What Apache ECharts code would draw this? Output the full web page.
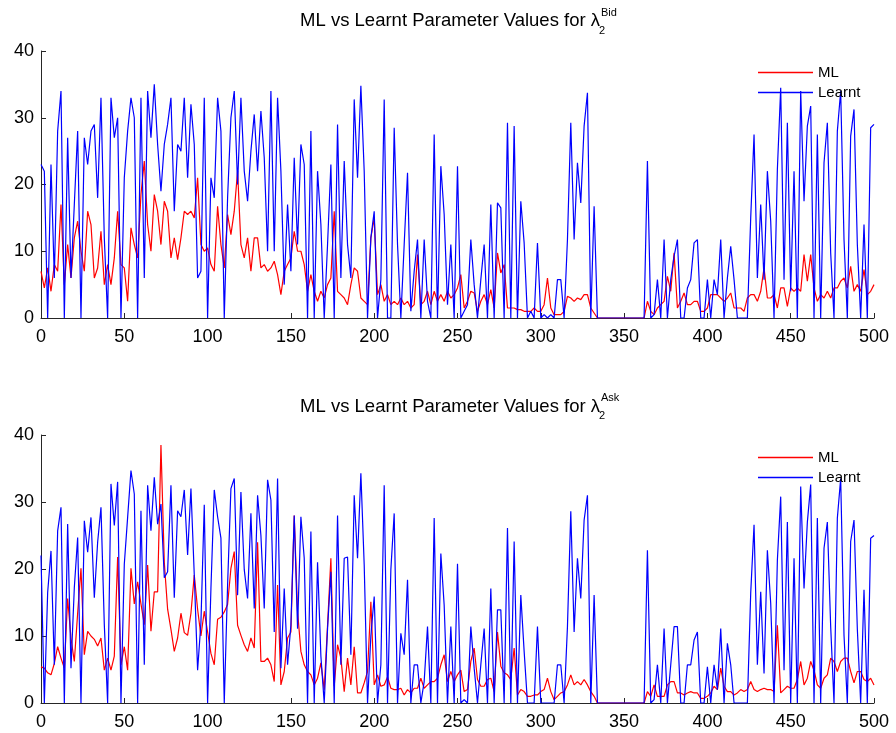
<!DOCTYPE html>
<html>
<head>
<meta charset="utf-8">
<title>ML vs Learnt Parameter Values</title>
<script src="https://cdn.jsdelivr.net/npm/echarts@6/dist/echarts.min.js"></script>
<style>
  html, body { margin: 0; padding: 0; background: #fff; }
  #chart { width: 896px; height: 733px; }
</style>
</head>
<body>
<div id="chart"></div>
<script>
// values every 2 steps along x (0, 2, 4 ... 500)
const xStep = 2

const bidML = [
  7, 4.5, 7.5, 4, 8, 7, 17, 5, 11, 6, 12, 14.5, 10, 7, 16, 14, 6, 7.5, 13, 5, 8,
  5, 9, 16, 8, 7.5, 2.5, 13.5, 11, 9, 18.5, 23.5, 14, 10, 18.5, 16, 11, 17.5, 16, 9, 12, 8.75,
  12, 16, 15.5, 16, 15, 21, 11, 10, 10.5, 8, 7, 16.75, 11, 7.5, 15.5, 12.5, 16, 22, 11, 9, 12,
  7, 12, 12, 7.5, 8, 7, 7.5, 8.5, 6.5, 3.5, 7, 8, 9, 13, 10, 10, 8, 4, 6.5, 4, 2.5,
  4, 3, 5, 6, 16, 4, 3.5, 3, 2, 5, 7.5, 7, 3, 2.5, 2, 12, 15, 3.5, 5, 2.5, 3.5,
  2, 2.5, 2, 3, 2, 2.5, 1.5, 2, 9.5, 2, 2.5, 4, 2, 4, 2.5, 3.5, 2.5, 4, 3, 3.5, 4.5,
  6.5, 1.5, 2.5, 4, 3.75, 1, 2.5, 3.5, 2, 4.25, 1.5, 9.75, 6.75, 8, 1.5, 1.5, 1.5, 1.25, 1.25, 1, 1,
  1, 1.5, 1, 1, 2, 6, 1.5, 0.5, 0.5, 0.5, 1, 3.25, 3, 2.5, 3, 2.75, 3.5, 3.5, 1.5, 0.75, 0,
  0, 0, 0, 0, 0, 0, 0, 0, 0, 0, 0, 0, 0, 0,
  2.5, 1, 0.5, 1.5, 2, 2.5, 6.25, 4, 9.75, 1.5, 2.5, 3.75, 2, 2,
  2.5, 2.5, 1, 1, 1.5, 3.5, 3.5, 3.5, 3, 2.5, 3, 3.75, 1.5, 1.5,
  1.5, 1, 3, 3.5, 3.5, 2.5, 4, 7.5, 3, 3, 3.5, 1.5, 4.5, 4.5, 1.75, 4.5, 4, 4.5, 4, 9.5,
  5.5, 9.5, 4.5, 2.5, 3.5, 3, 4, 3, 4.5, 4.5, 5.5, 6, 4.5, 7.75, 4, 5, 4, 7.25, 3.5, 4, 5
]

const bidLearnt = [
  23, 22, 0, 23, 6, 28, 34, 0, 27, 6, 17, 28, 0, 27, 23, 28, 29, 18, 33, 12, 0,
  33, 27, 30, 0, 21, 28, 33, 30, 0, 33, 6, 34, 27, 35, 26, 19, 26, 29, 33, 16, 26,
  25, 33, 21, 32, 26, 6, 7, 33, 0, 21, 18, 33, 28, 0, 18, 30, 34, 20, 33, 22, 17.5,
  25, 30.5, 22, 31, 24, 10, 34, 10, 33, 22, 5, 17, 7, 24, 11, 26, 23, 0, 28, 0, 22,
  14, 0, 11, 23, 0, 29, 6, 23.5, 11, 6, 32.75, 21, 34.8, 22, 0, 12, 16, 0, 5.75, 32.75, 0,
  0, 28.5, 11, 0, 11, 21.75, 1, 7, 11.75, 0, 11.75, 2.5, 0, 27.5, 0, 22.75, 15.5, 2, 11, 0, 22.75,
  0, 1, 2, 11.75, 5, 0, 5.75, 11, 0, 17, 0, 17.25, 16.5, 0, 29.25, 0, 28.75, 0, 17.5, 11.25, 0,
  1, 0, 11.25, 0, 0.5, 0, 0.5, 0, 5.75, 5.75, 0, 11.75, 29.25, 11.75, 23.25, 17.25, 28.75, 33.75, 0, 16.75, 0,
  0, 0, 0, 0, 0, 0, 0, 0, 0, 0, 0, 0, 0, 0,
  23.5, 0, 0.5, 5.75, 0, 11.75, 0, 5.75, 9.25, 11.75, 0, 0, 4.5, 5.75,
  11.25, 11.75, 0, 0, 5.75, 0, 5.75, 3.5, 11.75, 0, 6, 10.75, 5.75, 0,
  0, 0, 0, 15, 27.5, 6, 17, 5.75, 22, 14.5, 0, 22.25, 34.5, 5.75, 29.25, 4, 22, 0, 34, 17.5,
  28.75, 31.75, 0, 27.5, 0, 23.25, 29.25, 9.75, 0, 28, 34, 11.75, 0, 27.25, 31.25, 11, 0, 14, 0, 28.5, 29
]

const askML = [
  5.4, 5.2, 4.5, 4.2, 5.9, 8.4, 6.7, 5.2, 15.6, 9.7, 6.2, 13.4, 20.1, 7.2, 10.7, 10, 9.5, 8.5, 9.7, 4.9, 6.7,
  4.9, 7, 21.8, 5.7, 8.4, 4.9, 20.1, 14.8, 18.1, 14.8, 11.7, 20.6, 10.7, 16.6, 16.6, 38.5, 21, 14, 11, 7.7, 9.7,
  13.4, 10.5, 10.1, 13.4, 19.1, 14, 10, 13.7, 10.6, 7.4, 5.7, 12.5, 12.8, 13.6, 14.7, 20.1, 22.6, 11.6, 10.1, 8.7, 7.7,
  9.7, 8.2, 24, 6.2, 6.2, 6.7, 5.7, 3.2, 17.6, 2.7, 4.7, 9.7, 10.6, 28, 13.7, 7.7, 5.7, 4.7, 4.2, 2.7, 3.7,
  6, 2, 11.6, 21.6, 2.5, 8.7, 6.7, 1.7, 6.7, 2.7, 8.4, 1.5, 1.5, 3, 4.7, 15.1, 2.7, 4.2, 2.5, 2.7, 3.9,
  2.2, 2, 2, 2.2, 1.2, 2, 1.5, 2.2, 2.2, 3.7, 2.2, 2.7, 3.2, 3.2, 3.7, 5.7, 7.2, 3.2, 4.7, 3.2, 4.2,
  4.9, 1.7, 2, 6.2, 8.2, 3.5, 2.5, 2.5, 3.5, 3.7, 1.7, 10.6, 5.5, 4.5, 4.2, 3.5, 8.2, 1.2, 2, 1.7, 1,
  1, 1.2, 1.2, 1.7, 2, 3.7, 1.7, 0.5, 1, 1.5, 1.7, 2.7, 4.2, 2.7, 3.2, 2.7, 3.5, 2.7, 1.7, 1, 0,
  0, 0, 0, 0, 0, 0, 0, 0, 0, 0, 0, 0, 0, 0,
  1.7, 1, 2.7, 1, 1, 1, 2.7, 3.2, 3.2, 1.5, 1.5, 1.2, 1.5, 1.7,
  1.5, 1.5, 0.7, 0.7, 1, 1.5, 2.5, 2, 5.2, 2.5, 1.7, 1.7, 1.2, 1.5,
  2, 1.7, 2, 3.2, 2, 1.7, 2, 2.2, 2, 2, 1.7, 11.6, 1.5, 2, 2.5, 2.2, 2.2, 3.5, 6.2, 2.7,
  3.7, 6.2, 4.9, 2.7, 2.2, 3.7, 4.2, 6.7, 6.2, 4.7, 6.2, 6.7, 6.7, 4.7, 3, 4.7, 4.7, 3.5, 3.2, 3.7, 2.7
]

const askLearnt = [
  22, 0, 16.5, 22.7, 5.7, 25.7, 29.2, 0, 26.7, 5.2, 17.2, 24.7, 0, 27.2, 22.5, 27.7, 15.7, 24, 29.2, 11.7, 0,
  32.7, 26.5, 33, 0, 20.7, 27.7, 34.7, 31.2, 0, 28.7, 5.7, 32.5, 25.7, 33.7, 26.7, 29.7, 18.7, 19.6, 32.5, 15.7, 28.7,
  27.8, 31.8, 22.1, 32, 19.1, 4.9, 12, 29.6, 0, 17.1, 31.8, 27.8, 24.6, 0, 17.6, 32, 33.5, 16.1, 31.5, 19.9, 15.6,
  28.3, 14.1, 31, 25, 14.1, 33.3, 30.3, 10.6, 33.5, 5.2, 17.1, 5.7, 11.6, 28, 11.1, 27.8, 21.6, 0, 25.6, 0, 21,
  7, 0, 11.1, 19.6, 0, 28, 5.7, 21.6, 21.8, 7.2, 31, 21.6, 34.3, 20.6, 0, 10, 15.9, 0, 5.7, 32.5, 0,
  19.9, 28.3, 0, 10.4, 7.2, 18.4, 0, 5.7, 5.7, 0, 3.2, 11.4, 0, 27.6, 0, 22.3, 14.6, 0, 11.4, 0, 20.8,
  0, 0.5, 0, 11.4, 5.2, 0, 5.7, 11.1, 0, 17.1, 0, 13.9, 13.9, 0, 26.1, 0, 24.1, 0, 16.1, 7.7, 0,
  0, 0, 11.4, 0, 0, 0, 0, 0, 5.7, 5.7, 0, 11.4, 28.6, 10.6, 21.6, 15.6, 27.3, 31, 0, 16.1, 0,
  0, 0, 0, 0, 0, 0, 0, 0, 0, 0, 0, 0, 0, 0,
  22.8, 0, 0.5, 5.7, 0, 11.1, 0, 5.7, 11.4, 11.4, 0, 0, 5.7, 5.7,
  9.4, 10.6, 0, 0, 5.4, 0, 5.7, 2, 11.1, 0, 8.9, 5.7, 0, 0,
  0, 0, 0, 16.4, 26.6, 5.7, 16.6, 4.4, 22.8, 14.9, 0, 21.3, 30.8, 4.9, 27, 0, 21.6, 0, 32.3, 17.1,
  27, 32.6, 0, 27.6, 0, 23.1, 27, 11.4, 0, 27.6, 33.5, 10.1, 0, 24.1, 27.3, 11, 0, 16.9, 0, 24.6, 25
]

const legendNames = ['ML', 'Learnt']
const seriesColors = ['#ff0000', '#0000ff']
const yTicks = { min: 0, max: 40, interval: 10 }
const xTicks = { min: 0, max: 500, interval: 50 }

const FONT = '"Liberation Sans", Arial, sans-serif'
const AXIS_COLOR = '#262626'

function pairs(values) {
  return values.map((v, i) => [i * xStep, v])
}

function xAxisFor(idx) {
  return {
    gridIndex: idx, type: 'value', min: xTicks.min, max: xTicks.max, interval: xTicks.interval,
    axisLine: { lineStyle: { color: AXIS_COLOR, width: 1 } },
    axisTick: { inside: true, length: 5, lineStyle: { color: AXIS_COLOR } },
    axisLabel: { color: '#000', fontSize: 18, fontFamily: FONT, margin: 10 },
    splitLine: { show: false }
  }
}

function yAxisFor(idx) {
  return {
    gridIndex: idx, type: 'value', min: yTicks.min, max: yTicks.max, interval: yTicks.interval,
    axisLine: { show: true, lineStyle: { color: AXIS_COLOR, width: 1 } },
    axisTick: { show: true, inside: true, length: 5, lineStyle: { color: AXIS_COLOR } },
    axisLabel: { color: '#000', fontSize: 18, fontFamily: FONT, margin: 7 },
    splitLine: { show: false }
  }
}

function lineSeries(name, idx, values, color) {
  return {
    name: name, type: 'line', xAxisIndex: idx, yAxisIndex: idx,
    data: pairs(values), symbol: 'none', showSymbol: false,
    lineStyle: { color: color, width: 1.2 }, itemStyle: { color: color },
    animation: false
  }
}

// plain line markers in the legend, no circles; colours set per item
function legendAt(top) {
  return {
    data: legendNames.map((n, i) => ({ name: n, itemStyle: { color: seriesColors[i] } })),
    orient: 'vertical', left: 758, top: top,
    icon: 'rect', itemWidth: 55, itemHeight: 1.3, itemGap: 5, padding: 0,
    textStyle: { fontSize: 15, fontFamily: FONT, color: '#000', lineHeight: 14 }
  }
}

function titleAt(top) {
  return {
    text: 'ML vs Learnt Parameter Values for λ', right: 296, top: top, padding: 0,
    textStyle: { fontSize: 18.5, fontWeight: 'normal', fontFamily: FONT, color: '#000' }
  }
}

function smallText(text, x, y) {
  return {
    type: 'text', left: x, top: y,
    style: { text: text, font: '11px ' + FONT, fill: '#000' }
  }
}

const chart = echarts.init(document.getElementById('chart'), null, { renderer: 'canvas' })

chart.setOption({
  backgroundColor: '#fff',
  animation: false,
  title: [titleAt(11), titleAt(397)],
  legend: [legendAt(65), legendAt(450)],
  grid: [
    { left: 41, right: 22, top: 51, height: 267 },
    { left: 41, right: 22, top: 435, height: 268 }
  ],
  xAxis: [xAxisFor(0), xAxisFor(1)],
  yAxis: [yAxisFor(0), yAxisFor(1)],
  series: [
    lineSeries(legendNames[0], 0, bidML, seriesColors[0]),
    lineSeries(legendNames[1], 0, bidLearnt, seriesColors[1]),
    lineSeries(legendNames[0], 1, askML, seriesColors[0]),
    lineSeries(legendNames[1], 1, askLearnt, seriesColors[1])
  ],
  graphic: [
    smallText('Bid', 601, 7),
    smallText('2', 599, 25),
    smallText('Ask', 601, 392),
    smallText('2', 599, 410)
  ]
})
</script>
</body>
</html>
